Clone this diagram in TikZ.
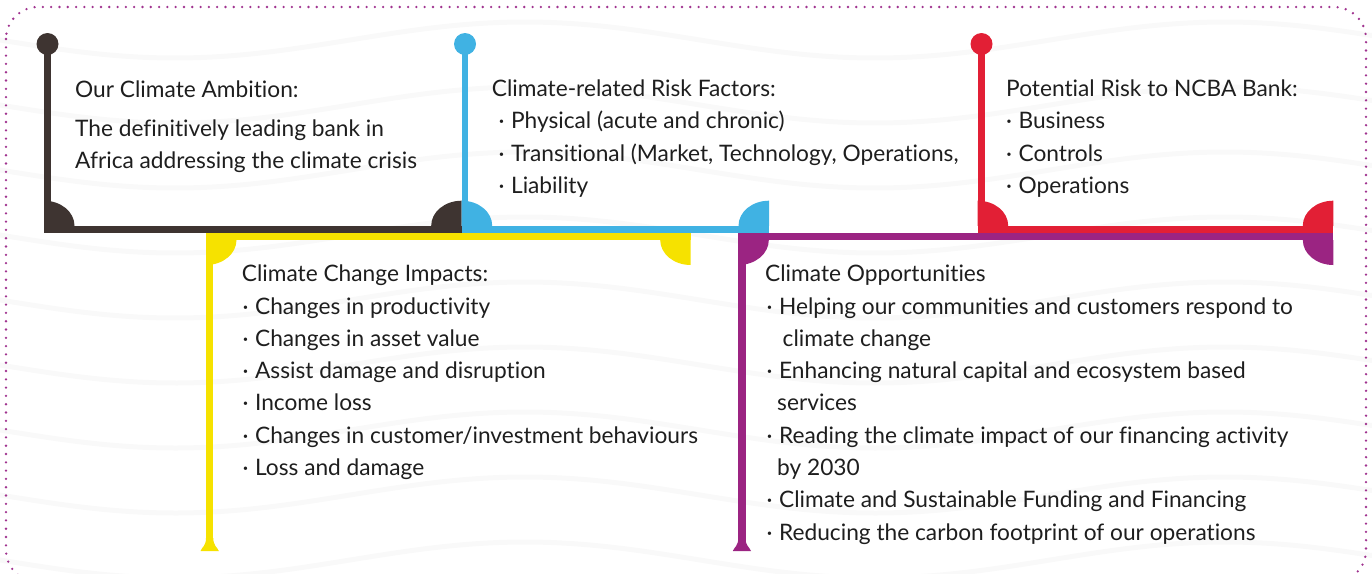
\documentclass[tikz,border=0pt]{standalone}
\usepackage{fontspec}
\setmainfont{Lato}[Ligatures=NoCommon]
\definecolor{cdark}{HTML}{3E3431}
\definecolor{cblue}{HTML}{40B2E3}
\definecolor{cyellow}{HTML}{F6E200}
\definecolor{cred}{HTML}{E21F35}
\definecolor{cpurple}{HTML}{9B2482}
\definecolor{cborder}{HTML}{A0338F}
\definecolor{ctext}{HTML}{1E1E1E}
\newcommand\bul{{\char"00B7}\hspace{6.5pt}}
\newcommand\qdisc[5]{%
  \begin{scope}
    \clip (#2,#3) rectangle ({#2+#4*32},{#3+#5*27});
    \fill[#1] (#2,#3) ellipse[x radius=30.5, y radius=25];
  \end{scope}}
\newcommand\foot[3]{%
  \fill[#1] (#2,538) .. controls (#2,546) and ({#2-4},547) .. ({#2-5.5},551)
     -- ({#3+5.5},551) .. controls ({#3+4},547) and (#3,546) .. (#3,538) -- cycle;}
\begin{document}
\begin{tikzpicture}[x=1pt,y=-1pt,
  txt/.style={anchor=base west, inner sep=0pt, text=ctext, font=\fontsize{22.7}{27}\selectfont},
  wave/.style={draw=black!2.5, line width=5pt}]
\useasboundingbox (0,0) rectangle (1372,573);
% faint background waves
\foreach \k in {0,...,9}{
  \draw[wave] plot[domain=-20:1400, samples=80, smooth] (\x, {-25+65*\k + 18*sin(0.514286*\x)});
}
% dotted frame
\draw[cborder, line width=2.6pt, line cap=round, dash pattern=on 0pt off 8.3pt,
      rounded corners=32pt] (6,7) rectangle (1366,582);
% dark bracket
\fill[cdark] (44,44) rectangle (51,232.7);
\fill[cdark] (44,225.7) rectangle (461.7,232.7);
\fill[cdark] (47.5,44) circle[radius=11];
\qdisc{cdark}{44}{225.7}{1}{-1}
\qdisc{cdark}{461.7}{225.7}{-1}{-1}
% yellow bracket
\fill[cyellow] (206,232.7) rectangle (213.3,546);
\fill[cyellow] (206,232.7) rectangle (690.7,240);
\qdisc{cyellow}{206}{240}{1}{1}
\qdisc{cyellow}{690.7}{240}{-1}{1}
\foot{cyellow}{206}{213.3}
% blue bracket
\fill[cblue] (461.7,44) rectangle (468.3,232.7);
\fill[cblue] (461.7,225.7) rectangle (769,232.7);
\fill[cblue] (465,44) circle[radius=11];
\qdisc{cblue}{461.7}{225.7}{1}{-1}
\qdisc{cblue}{769}{225.7}{-1}{-1}
% purple bracket
\fill[cpurple] (738.3,232.7) rectangle (745.5,546);
\fill[cpurple] (738.3,232.7) rectangle (1333.3,240);
\qdisc{cpurple}{738.3}{240}{1}{1}
\qdisc{cpurple}{1333.3}{240}{-1}{1}
\foot{cpurple}{738.3}{745.5}
% red bracket
\fill[cred] (977.7,44) rectangle (985,232.7);
\fill[cred] (977.7,225.7) rectangle (1333.3,232.7);
\fill[cred] (981.5,44) circle[radius=11];
\qdisc{cred}{977.7}{225.7}{1}{-1}
\qdisc{cred}{1333.3}{225.7}{-1}{-1}
% texts
\node[txt] (amb)  at (75,97.3)  {Our Climate Ambition:};
\node[txt] (amb1) at (75,136)   {The definitively leading bank in};
\node[txt] (amb2) at (75,168) {Africa addressing the climate crisis};
\node[txt] (risk)  at (491.7,96.5)  {Climate-related Risk Factors:};
\node[txt] (risk1) at (498.5,128.8) {\bul Physical (acute and chronic)};
\node[txt] (risk2) at (498.5,161.1) {\bul Transitional (Market, Technology, Operations,};
\node[txt] (risk3) at (498.5,193.4) {\bul Liability};
\node[txt] (ncba)  at (1006,96.5)  {Potential Risk to NCBA Bank:};
\node[txt] (ncba1) at (1006,128.8) {\bul Business};
\node[txt] (ncba2) at (1006,161.1) {\bul Controls};
\node[txt] (ncba3) at (1006,193.4) {\bul Operations};
\node[txt] (cci)  at (241.7,281.7) {Climate Change Impacts:};
\node[txt] (cci1) at (242.5,314)   {\bul Changes in productivity};
\node[txt] (cci2) at (242.5,346.3) {\bul Changes in asset value};
\node[txt] (cci3) at (242.5,378.6) {\bul Assist damage and disruption};
\node[txt] (cci4) at (242.5,410.9) {\bul Income loss};
\node[txt] (cci5) at (242.5,443.2) {\bul Changes in customer/investment behaviours};
\node[txt] (cci6) at (242.5,475.5) {\bul Loss and damage};
\node[txt] (opp)   at (765,281.7) {Climate Opportunities};
\node[txt] (opp1)  at (766.5,314)   {\bul Helping our communities and customers respond to};
\node[txt] (opp1b) at (782.5,346) {climate change};
\node[txt] (opp2)  at (766.5,378.3) {\bul Enhancing natural capital and ecosystem based};
\node[txt] (opp2b) at (777,410.7) {services};
\node[txt] (opp3)  at (766.5,443.3) {\bul Reading the climate impact of our financing activity};
\node[txt] (opp3b) at (777,475)   {by 2030};
\node[txt] (opp4)  at (766.5,507.3) {\bul Climate and Sustainable Funding and Financing};
\node[txt] (opp5)  at (766.5,540)   {\bul Reducing the carbon footprint of our operations};
\end{tikzpicture}
\end{document}
